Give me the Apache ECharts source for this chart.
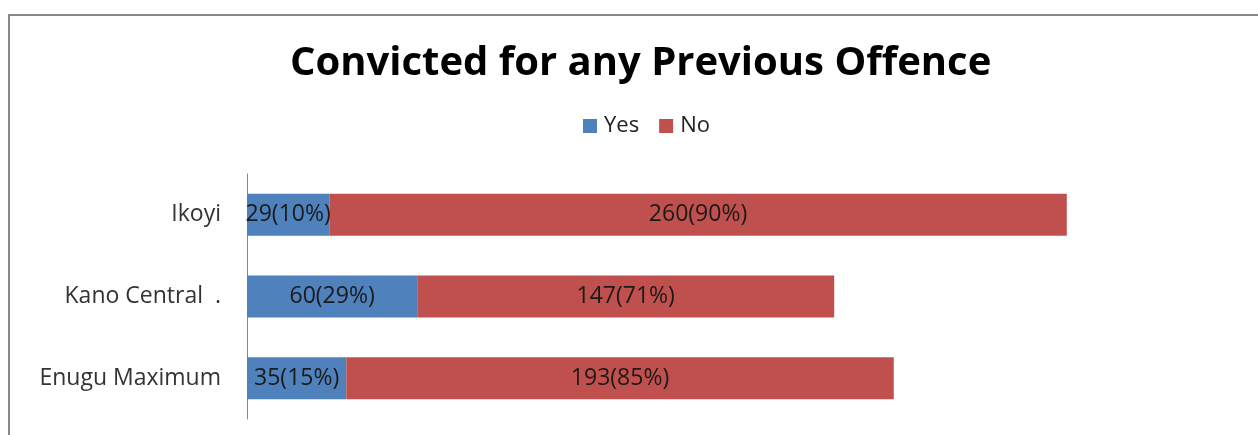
<!DOCTYPE html>
<html>
<head>
<meta charset="utf-8">
<script src="https://cdn.jsdelivr.net/npm/echarts@6/dist/echarts.min.js"></script>
<style>
  html, body { margin: 0; padding: 0; background: #fff; }
  #chart { width: 1258px; height: 435px; }
</style>
</head>
<body>
<div id="chart"></div>
<script>
// Prisons, listed bottom-to-top as the category axis draws them
const categories = ['Enugu Maximum', 'Kano Central  .', 'Ikoyi'];
const yesCounts = [35, 60, 29];
const noCounts = [193, 147, 260];
const yesPct = [15, 29, 10];
const noPct = [85, 71, 90];

const chart = echarts.init(document.getElementById('chart'));

function labelFor(counts, pcts) {
  return function (p) {
    return counts[p.dataIndex] + '(' + pcts[p.dataIndex] + '%)';
  };
}

const labelStyle = {
  show: true,
  position: 'inside',
  color: '#1a1a1a',
  fontFamily: 'Open Sans',
  fontSize: 23
};

chart.setOption({
  animation: false,
  backgroundColor: '#fff',
  title: {
    text: 'Convicted for any Previous Offence',
    left: 285,
    top: 39,
    textStyle: {
      fontFamily: 'Open Sans',
      fontWeight: 'bold',
      fontSize: 40,
      color: '#000'
    }
  },
  legend: {
    top: 110,
    left: 578,
    itemWidth: 14,
    itemHeight: 14,
    itemGap: 20,
    icon: 'rect',
    textStyle: { fontFamily: 'Open Sans', fontSize: 22, color: '#222', padding: [0, 0, 0, 2] },
    data: ['Yes', 'No']
  },
  graphic: [{
    type: 'rect',
    shape: { x: 9, y: 15, width: 1300, height: 500 },
    style: { fill: 'none', stroke: '#888', lineWidth: 2 },
    silent: true
  }],
  grid: { left: 247, top: 174, width: 851, height: 245, containLabel: false },
  xAxis: {
    type: 'value',
    min: 0,
    max: 300,
    show: false
  },
  yAxis: {
    type: 'category',
    data: categories,
    axisLine: { show: true, lineStyle: { color: '#888', width: 1 } },
    axisTick: { show: false },
    axisLabel: {
      margin: 26,
      fontFamily: 'Open Sans',
      fontSize: 23,
      color: '#333'
    }
  },
  series: [
    {
      name: 'Yes',
      type: 'bar',
      stack: 'total',
      barWidth: 42,
      itemStyle: { color: '#4F81BD' },
      label: Object.assign({ formatter: labelFor(yesCounts, yesPct) }, labelStyle),
      data: yesCounts
    },
    {
      name: 'No',
      type: 'bar',
      stack: 'total',
      barWidth: 42,
      itemStyle: { color: '#C0504D' },
      label: Object.assign({ formatter: labelFor(noCounts, noPct) }, labelStyle),
      data: noCounts
    }
  ]
});
</script>
</body>
</html>
